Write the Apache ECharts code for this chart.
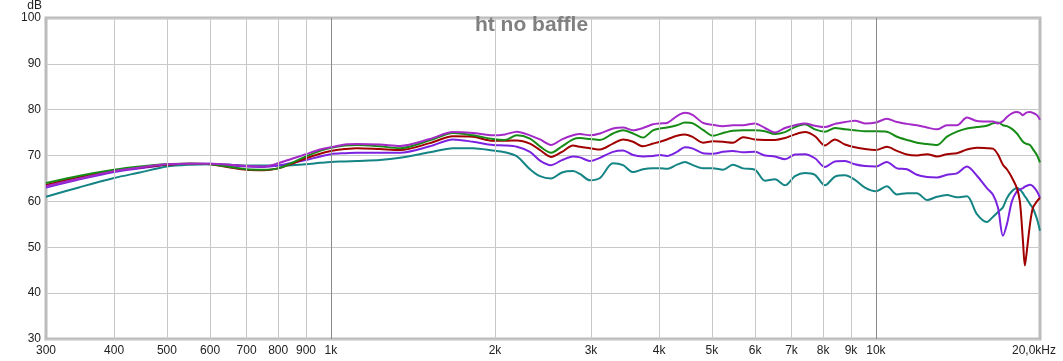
<!DOCTYPE html>
<html>
<head>
<meta charset="utf-8">
<script src="https://cdn.jsdelivr.net/npm/echarts@6/dist/echarts.min.js"></script>
<style>
html,body{margin:0;padding:0;background:#fff;}
#c{width:1063px;height:361px;}
</style>
</head>
<body>
<div id="c"></div>
<script>
// Frequencies (Hz) shared by all curves
const freqs = [300,346,400,446,500,551,600,653,700,753,800,848,900,955,1000,1061,1116,1230,1339,1519,1675,1822,1982,2086,2194,2318,2418,2534,2654,2780,2863,2987,
3116,3292,3435,3583,3737,3898,4015,4136,4314,4462,4615,4815,5022,5240,5465,5702,5998,6257,6527,6808,7102,7408,7729,8063,8410,8773,9151,9546,10000,
10470,10930,11400,11890,12410,12940,13500,14080,14690,15320,15980,16390,16750,17100,17390,17760,18140,18370,18610,18760,18920,19170,19410,19740,20000];

// dB values per curve
const magenta = [63.3,65.0,66.6,67.4,68.1,68.2,68.2,68.0,67.7,67.6,68.3,69.3,70.3,71.3,71.8,72.4,72.5,72.4,72.1,73.6,75.1,74.9,74.4,74.6,75.2,74.4,73.5,72.3,73.5,74.4,74.7,74.4,
74.8,75.9,76.1,75.5,76.0,76.8,77.0,77.1,78.6,79.3,78.8,77.1,76.7,76.4,76.6,76.6,77.0,76.0,75.0,76.0,76.6,77.0,76.5,76.2,76.9,77.3,77.6,77.0,77.2,
78.0,77.3,76.9,76.6,76.1,75.7,76.6,76.6,78.3,77.5,77.4,77.4,77.0,77.5,78.4,79.2,79.5,79.3,78.8,79.1,79.4,79.5,79.3,78.8,77.8];

const green = [64.0,65.6,66.9,67.6,68.1,68.2,68.1,67.5,67.0,66.9,67.2,68.4,69.8,71.0,71.7,72.2,72.3,72.0,71.6,73.3,74.9,74.4,73.6,73.4,74.4,73.7,72.0,70.6,72.0,73.5,73.8,73.6,
73.4,74.8,75.5,74.8,73.9,75.5,75.9,76.1,76.6,77.2,77.0,75.6,74.3,74.9,75.4,75.5,75.5,75.3,74.7,75.1,76.2,76.8,75.7,75.2,76.0,75.7,75.5,75.3,75.3,
75.2,74.1,73.4,72.8,72.5,72.3,74.1,75.2,75.9,76.2,76.5,77.0,77.2,76.6,76.4,75.8,74.8,73.9,73.0,72.7,72.5,72.3,71.4,70.1,68.5];

const red = [63.6,65.3,66.7,67.4,68.0,68.2,68.1,67.4,66.9,66.8,67.2,68.2,69.4,70.4,71.0,71.4,71.6,71.4,71.2,72.7,74.2,74.1,73.2,73.2,73.3,72.6,71.2,69.7,70.8,72.2,71.9,71.6,
71.3,72.6,73.5,73.0,72.0,72.6,73.0,73.5,74.3,74.6,74.0,72.8,73.1,73.0,72.8,74.0,73.5,73.4,73.4,73.8,74.6,75.1,74.2,72.2,73.5,72.4,71.8,71.4,71.2,
71.9,71.0,70.2,70.0,70.3,69.8,70.3,70.5,71.3,71.7,71.6,71.5,70.2,68.0,67.0,65.2,62.9,60.0,51.4,46.0,49.2,55.0,58.6,60.0,60.8];

const violet = [63.0,64.8,66.4,67.2,68.0,68.2,68.2,67.8,67.6,67.5,67.8,68.4,69.0,69.8,70.3,70.5,70.6,70.6,70.6,72.0,73.5,73.0,72.3,72.2,71.9,70.8,68.9,67.9,69.0,69.8,69.6,68.8,
69.5,70.8,71.1,70.1,69.8,69.9,70.1,69.9,70.8,71.8,71.5,70.5,70.4,70.8,71.0,70.7,70.8,70.0,69.8,69.2,70.2,70.3,69.4,67.5,68.7,68.8,68.1,67.7,67.6,
68.6,67.2,67.0,65.8,65.3,65.2,65.8,66.1,67.6,65.6,62.9,61.5,58.6,52.5,55.0,60.0,62.2,62.6,62.9,63.2,63.4,63.6,63.3,62.2,60.8];

const teal = [61.0,63.1,65.1,66.3,67.6,68.0,68.1,68.0,67.8,67.8,67.8,67.9,68.1,68.4,68.6,68.7,68.8,69.0,69.5,70.7,71.6,71.6,71.1,70.7,69.8,67.0,65.5,65.0,66.3,66.6,66.0,64.6,
65.1,68.3,67.9,66.4,67.0,67.2,67.2,67.1,68.0,68.6,67.9,67.2,67.2,66.9,68.0,67.2,66.9,64.5,64.8,63.5,65.5,66.2,65.8,63.5,65.4,65.7,64.7,63.0,62.2,
63.3,61.5,61.8,61.8,60.3,61.0,61.4,60.9,61.1,57.2,55.5,56.6,57.7,58.7,60.7,62.2,62.9,62.6,61.8,61.1,60.5,59.4,58.5,56.2,53.6];

// Axis ticks
const xTicks = [300,400,500,600,700,800,900,1000,2000,3000,4000,5000,6000,7000,8000,9000,10000,20000];
const xTickLabels = ['300','400','500','600','700','800','900','1k','2k','3k','4k','5k','6k','7k','8k','9k','10k','20,0kHz'];
const xGridLines = [400,500,600,700,800,900,1000,2000,3000,4000,5000,6000,7000,8000,9000,10000];
const majorGrid = [1000,10000];

const FONT = 'Liberation Sans, Arial, sans-serif';
const chart = echarts.init(document.getElementById('c'), null, {renderer:'canvas'});

function mk(name, arr, color) {
  return {
    name: name, type: 'line', data: freqs.map((f, i) => [f, arr[i]]),
    showSymbol: false, symbol: 'none', smooth: 0.3, z: 3,
    lineStyle: {color: color, width: 2}, itemStyle: {color: color},
    emphasis: {disabled: true}, silent: true, clip: true
  };
}

const option = {
  animation: false,
  backgroundColor: '#ffffff',
  title: {
    text: 'ht no baffle', left: 'center', top: 15, padding: 0,
    textStyle: {fontFamily: FONT, fontSize: 21, fontWeight: 'bold', color: '#808080'}
  },
  grid: {left: 46, right: 23, top: 15, bottom: 22, show: true, borderColor: '#bcbcbc', borderWidth: 3},
  xAxis: {
    type: 'log', logBase: 10, min: 300, max: 20000,
    axisLine: {show: false}, axisTick: {show: false},
    splitLine: {show: false}, minorTick: {show: false}, minorSplitLine: {show: false},
    axisLabel: {
      customValues: xTicks, interval: 0, hideOverlap: false,
      showMinLabel: true, showMaxLabel: true,
      margin: 6, fontFamily: FONT, fontSize: 12, color: '#222',
      formatter: function (v) {
        let idx = 0, best = Infinity;
        xTicks.forEach((t, i) => { const d = Math.abs(Math.log(v / t)); if (d < best) { best = d; idx = i; } });
        const s = xTickLabels[idx];
        return idx === xTicks.length - 1 ? '{e|' + s + '}' : s;
      },
      rich: {e: {fontFamily: FONT, fontSize: 12, color: '#222', padding: [0, 12, 0, 0]}}
    }
  },
  yAxis: {
    type: 'value', min: 30, max: 100, interval: 10,
    name: 'dB', nameLocation: 'end', nameGap: 3,
    nameTextStyle: {fontFamily: FONT, fontSize: 12, color: '#222', align: 'right', padding: [0, 4, 0, 0]},
    axisLine: {show: false}, axisTick: {show: false},
    axisLabel: {margin: 5, fontFamily: FONT, fontSize: 12, color: '#222'},
    splitLine: {lineStyle: {color: '#c8c8c8', width: 1}}
  },
  series: [
    {
      name: 'grid', type: 'line', data: [], z: 1, silent: true,
      markLine: {
        silent: true, symbol: ['none', 'none'], label: {show: false}, animation: false,
        emphasis: {disabled: true},
        data: xGridLines.map(f => ({
          xAxis: f,
          lineStyle: {color: majorGrid.indexOf(f) >= 0 ? '#8a8a8a' : '#c8c8c8', width: 1, type: 'solid'}
        }))
      }
    },
    mk('teal', teal, '#148484'),
    mk('violet', violet, '#7a22e0'),
    mk('red', red, '#a00000'),
    mk('green', green, '#168c16'),
    mk('magenta', magenta, '#a42ac8')
  ]
};
chart.setOption(option);
</script>
</body>
</html>
